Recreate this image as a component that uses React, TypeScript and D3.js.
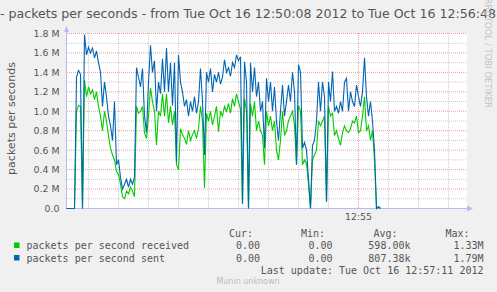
import React from "react";
import * as d3 from "d3";

const W = 497;
const H = 292;

const TITLE = "- packets per seconds - from Tue Oct 16 12:50:08 2012 to Tue Oct 16 12:56:48";
const Y_LABEL = "packets per seconds";
const WATERMARK = "RRDTOOL / TOBI OETIKER";
const FOOTER = "Munin unknown";
const LAST_UPDATE = "Last update: Tue Oct 16 12:57:11 2012";

// seconds after 12:50:08, one sample every STEP_SECONDS
const STEP_SECONDS = 2;
const RANGE_SECONDS = 400;

// packets per second (millions)
const received = [
  0, 0, 0, 0, 0, 1.0, 1.06, 1.05, 0, 1.32,
  1.15, 1.25, 1.18, 1.22, 1.12, 1.2, 1.05, 0.95, 0.8, 1.0,
  0.9, 0.75, 0.62, 0.55, 0.5, 0.38, 0.35, 0.25, 0.12, 0.1,
  0.18, 0.15, 0.22, 0.18, 0.12, 1.05, 0.98, 1.0, 1.05, 0.78,
  0.72, 0.95, 1.24, 1.1, 1.0, 0.65, 1.0, 0.95, 1.18, 0.95,
  1.18, 0.88, 1.05, 0.86, 1.0, 0.45, 0.4, 0.82, 0.76, 0.72,
  0.66, 0.8, 0.7, 0.76, 0.8, 0.72, 0.82, 1.05, 0.9, 0.21,
  0.98, 0.9, 1.0, 0.86, 0.95, 1.05, 0.79, 1.0, 0.95, 1.05,
  1.0, 1.08, 0.98, 1.13, 1.05, 1.18, 1.1, 1.02, 0.05, 1.13,
  1.0, 0, 1.08, 0.95, 1.1, 0.8, 0.9, 0.8, 0.75, 0.45,
  1.0, 0.85, 0.95, 0.8, 0.9, 0.6, 0.5, 0.7, 1.0, 0.75,
  0.8, 0.9, 0.95, 1.0, 0.85, 0.45, 1.06, 1.0, 0.45, 0.5,
  0.46, 0.25, 0, 0.5, 0.55, 0.6, 0.9, 0.85, 0.9, 0.95,
  0.07, 1.05, 0.95, 0.98, 0.75, 0.8, 0.72, 0.65, 0.78, 0.85,
  0.8, 0.78, 0.82, 0.9, 0.88, 0.95, 0.78, 0.8, 0.95, 1.15,
  0.8, 0.85, 0.7, 0.8, 0.5, 0, 0.01, 0,
];

const sent = [
  0, 0, 0, 0, 0, 1.35, 1.42, 1.38, 0, 1.79,
  1.58, 1.66, 1.6, 1.65, 1.55, 1.62, 1.5, 1.4, 1.05, 1.3,
  1.15, 0.95, 0.85, 0.7, 1.1, 0.45, 0.5, 0.32, 0.2, 0.25,
  0.3, 0.22, 0.3, 0.25, 0.32, 1.45, 1.35, 1.25, 1.44, 0.95,
  0.78, 1.3, 1.68, 1.4, 1.52, 1.0, 1.3, 1.18, 1.54, 1.2,
  1.65, 1.2, 1.5, 1.06, 1.5, 0.48, 1.58, 1.3, 1.2, 1.05,
  1.12, 0.95, 1.1, 1.0, 1.15, 0.98, 1.1, 1.44, 1.1, 0.55,
  1.4, 1.3, 1.44, 1.2, 1.38, 1.3, 1.4, 1.28, 1.35, 1.53,
  1.4, 1.45, 1.36, 1.5, 1.45, 1.58, 1.52, 1.56, 0.05, 1.51,
  1.3, 0, 1.5, 1.2, 1.45, 1.15, 1.3, 1.0, 1.1, 0.62,
  1.34, 1.1, 1.3, 1.0, 1.25, 0.9, 0.7, 1.0, 1.27, 0.95,
  1.1, 1.27, 1.1, 1.4, 1.2, 0.45, 1.48, 1.4, 0.62, 0.68,
  0.6, 0.3, 0, 0.65, 0.7, 0.9, 1.3, 1.0, 1.3, 1.15,
  0.07, 1.3, 1.1, 1.41, 1.0, 1.05, 0.98, 1.1, 1.0, 1.3,
  1.34, 1.0, 1.2, 1.1, 1.05, 1.27, 1.15, 1.05, 1.2, 1.55,
  1.15, 0.95, 1.1, 0.9, 0.6, 0, 0.02, 0,
];

const yMajorTicks = [0.2, 0.4, 0.6, 0.8, 1.0, 1.2, 1.4, 1.6, 1.8];
const yMinorTicks = [0.1, 0.3, 0.5, 0.7, 0.9, 1.1, 1.3, 1.5, 1.7];
const yTickValues = [0, 0.2, 0.4, 0.6, 0.8, 1.0, 1.2, 1.4, 1.6, 1.8];
const yTickLabels = ["0.0", "0.2 M", "0.4 M", "0.6 M", "0.8 M", "1.0 M", "1.2 M", "1.4 M", "1.6 M", "1.8 M"];

// seconds after 12:50:08
const xMinorTicks = [22, 52, 82, 112, 142, 172, 202, 232, 262, 322, 352, 382];
const xMajorTicks = [292];
const xMajorLabels = ["12:55"];

const legendNames = ["packets per second received", "packets per second sent"];
const legendColors = ["#00cc00", "#0066b3"];
const legendCur = ["0.00", "0.00"];
const legendMin = ["0.00", "0.00"];
const legendAvg = ["598.00k", "807.38k"];
const legendMax = ["1.33M", "1.79M"];
const legendHeaders = ["Cur:", "Min:", "Avg:", "Max:"];

const SANS = "'DejaVu Sans', sans-serif";
const MONO = "'DejaVu Sans Mono', monospace";
const TEXT = "#555555";

export default function App() {
  const plotLeft = 66.5;
  const plotRight = 466.5;
  const plotTop = 33.5;
  const plotBottom = 208.5;

  const x = d3.scaleLinear().domain([0, RANGE_SECONDS]).range([plotLeft, plotRight]);
  const y = d3.scaleLinear().domain([0, 1.8]).range([plotBottom, plotTop]);

  const line = d3
    .line<number>()
    .x((_, i) => x(i * STEP_SECONDS))
    .y((d) => y(d));

  const series = [received, sent];

  const colX = [260, 332.5, 410.5, 483.5];
  const headX = [253, 325, 397.5, 469.5];
  const axisColor = "#b4bcf0";

  return (
    <svg
      width={W}
      height={H}
      style={{ position: "absolute", left: 0, top: 0 }}
      xmlns="http://www.w3.org/2000/svg"
    >
      <rect x={0} y={0} width={W} height={H} fill="#f0f0f0" />
      <rect x={67} y={33} width={400} height={175.5} fill="#ffffff" />

      {/* title */}
      <text x={496} y={18} textAnchor="end" fontFamily={SANS} fontSize={12.6} fill={TEXT}>
        {TITLE}
      </text>

      {/* watermark */}
      <text
        transform={`translate(485,108) rotate(90)`}
        textAnchor="end"
        fontFamily={SANS}
        fontSize={8.5}
        fill="#c4c4c4"
      >
        {WATERMARK}
      </text>

      {/* y label */}
      <text
        transform={`translate(15,118.5) rotate(-90)`}
        textAnchor="middle"
        fontFamily={SANS}
        fontSize={11}
        fill={TEXT}
      >
        {Y_LABEL}
      </text>

      {/* minor grid */}
      {yMinorTicks.map((v) => (
        <line key={"ym" + v} x1={67} x2={467} y1={y(v)} y2={y(v)} stroke="#cccccc" strokeDasharray="1,1" />
      ))}
      {xMinorTicks.map((t) => (
        <line key={"xm" + t} x1={x(t)} x2={x(t)} y1={33} y2={208} stroke="#cccccc" strokeDasharray="1,1" />
      ))}
      {/* major grid */}
      {yMajorTicks.map((v) => (
        <line key={"yM" + v} x1={67} x2={467} y1={y(v)} y2={y(v)} stroke="#eaa0a0" strokeDasharray="1,1" />
      ))}
      {xMajorTicks.map((t) => (
        <line key={"xM" + t} x1={x(t)} x2={x(t)} y1={33} y2={208} stroke="#eaa0a0" strokeDasharray="1,1" />
      ))}

      {/* y tick labels */}
      {yTickValues.map((v, i) => (
        <text
          key={"yl" + v}
          x={59.5}
          y={y(v)}
          dy="0.36em"
          textAnchor="end"
          fontFamily={SANS}
          fontSize={9.4}
          fill={TEXT}
        >
          {yTickLabels[i]}
        </text>
      ))}
      {xMajorTicks.map((t, i) => (
        <text key={"xl" + t} x={x(t)} y={220} textAnchor="middle" fontFamily={SANS} fontSize={9.4} fill={TEXT}>
          {xMajorLabels[i]}
        </text>
      ))}

      {/* axes */}
      <line x1={plotLeft} x2={plotLeft} y1={30} y2={plotBottom} stroke={axisColor} />
      <line x1={plotLeft} x2={469} y1={plotBottom} y2={plotBottom} stroke={axisColor} />
      <path d={`M${plotLeft - 2.5},32 L${plotLeft},26 L${plotLeft + 2.5},32 Z`} fill={axisColor} />
      <path d={`M467,${plotBottom - 3} L473,${plotBottom} L467,${plotBottom + 3} Z`} fill={axisColor} />

      {/* data */}
      {series.map((s, i) => (
        <path key={"s" + i} d={line(s) || ""} fill="none" stroke={legendColors[i]} strokeWidth={1.1} />
      ))}

      {/* legend */}
      {legendHeaders.map((h, i) => (
        <text key={"h" + h} x={headX[i]} y={237} textAnchor="end" fontFamily={MONO} fontSize={10} fill={TEXT}>
          {h}
        </text>
      ))}
      {legendNames.map((n, i) => {
        const by = 249 + i * 12.5;
        return (
          <g key={"lg" + i}>
            <rect x={14} y={by - 6.5} width={5.5} height={5.5} fill={legendColors[i]} />
            <text x={26.5} y={by} fontFamily={MONO} fontSize={10} fill={TEXT} style={{ whiteSpace: "pre" }}>
              {n}
            </text>
            {[legendCur[i], legendMin[i], legendAvg[i], legendMax[i]].map((v, j) => (
              <text key={j} x={colX[j]} y={by} textAnchor="end" fontFamily={MONO} fontSize={10} fill={TEXT}>
                {v}
              </text>
            ))}
          </g>
        );
      })}
      <text x={483.5} y={273.5} textAnchor="end" fontFamily={MONO} fontSize={10} fill={TEXT} style={{ whiteSpace: "pre" }}>
        {LAST_UPDATE}
      </text>
      <text x={248} y={284} textAnchor="middle" fontFamily={SANS} fontSize={8} fill="#bbbbbb">
        {FOOTER}
      </text>
    </svg>
  );
}
